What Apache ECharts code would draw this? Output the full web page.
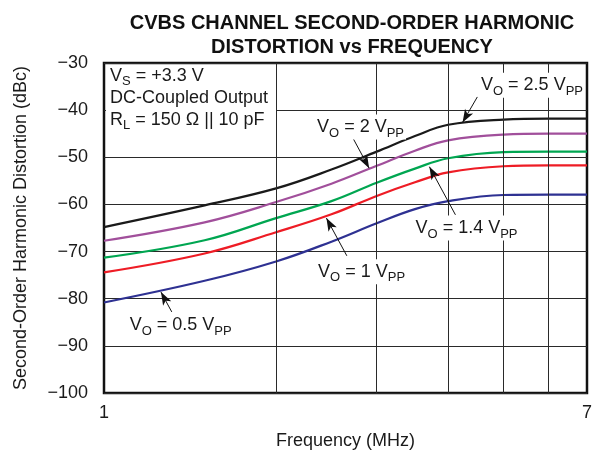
<!DOCTYPE html>
<html><head><meta charset="utf-8">
<script src="https://cdn.jsdelivr.net/npm/echarts@6/dist/echarts.min.js"></script>
<style>html,body{margin:0;padding:0;background:#fff}#c{width:595px;height:457px}</style>
</head><body><div id="c"></div><script>
// Frequency (MHz) sample points
const freq = [1, 1.5, 2, 2.5, 3, 3.5, 4, 5, 6, 7];
// Second-order harmonic distortion (dBc)
const vo25 = [-64.8, -60.2, -56.6, -52.6, -48.8, -45.5, -43.1, -42.0, -41.8, -41.8];
const vo2  = [-67.7, -63.8, -59.5, -55.6, -51.8, -48.6, -46.4, -45.2, -45.0, -45.0];
const vo14 = [-71.3, -67.6, -62.9, -59.3, -55.4, -52.4, -50.2, -48.9, -48.8, -48.8];
const vo1  = [-74.4, -70.4, -65.9, -62.1, -58.2, -55.3, -53.2, -51.9, -51.7, -51.7];
const vo05 = [-80.8, -76.2, -72.1, -67.9, -64.0, -61.0, -59.3, -58.0, -57.9, -57.9];
const seriesNames = ['VO = 2.5 VPP', 'VO = 2 VPP', 'VO = 1.4 VPP', 'VO = 1 VPP', 'VO = 0.5 VPP'];
const seriesColors = ['#1a1a1a', '#a14f9b', '#00a651', '#ee1c25', '#2e3192'];
const yTicks = [-100, -90, -80, -70, -60, -50, -40, -30];
const xGrid = [2, 3, 4, 5, 6];
// Annotation: label anchor [f, dBc] and text
const annLabels = [
  {pos: [4.53, -34.7], text: 'V{s|O} = 2.5 V{s|PP}'},
  {pos: [2.34, -43.6], text: 'V{s|O} = 2 V{s|PP}'},
  {pos: [3.48, -65.0], text: 'V{s|O} = 1.4 V{s|PP}'},
  {pos: [2.35, -74.3], text: 'V{s|O} = 1 V{s|PP}'},
  {pos: [1.10, -85.6], text: 'V{s|O} = 0.5 V{s|PP}'}
];
// Annotation arrows: [start, tip] in [f, dBc]
const annArrows = [
  [[4.50, -37.2], [4.24, -42.6]],
  [[2.72, -45.7], [2.91, -52.3]],
  [[4.12, -62.2], [3.71, -52.0]],
  [[2.66, -70.9], [2.45, -62.9]],
  [[1.314, -82.8], [1.258, -78.6]]
];

const FONT = '"Liberation Sans", Arial, Helvetica, sans-serif';
const TXT = '#1a1a1a';
const rich = {
  s: {fontSize: 13, fontFamily: FONT, color: TXT, verticalAlign: 'bottom', lineHeight: 25}
};
const allVals = [vo25, vo2, vo14, vo1, vo05];

const chart = echarts.init(document.getElementById('c'), null, {renderer: 'canvas'});
const series = allVals.map((vals, i) => ({
  name: seriesNames[i],
  type: 'line',
  data: freq.map((f, j) => [f, vals[j]]),
  showSymbol: false,
  smooth: 0.4,
  z: 3,
  lineStyle: {color: seriesColors[i], width: 2.2},
  itemStyle: {color: seriesColors[i]},
  silent: true
}));
// vertical gridlines
series.push({
  type: 'line', data: [], z: 1, silent: true,
  markLine: {
    silent: true, symbol: ['none', 'none'], animation: false,
    label: {show: false},
    lineStyle: {color: '#2a2a2a', width: 1, type: 'solid'},
    data: xGrid.map(v => ({xAxis: v}))
  }
});
// annotations
series.push({
  type: 'line', data: [], z: 10, silent: true,
  markPoint: {
    symbol: 'circle', symbolSize: 0, animation: false,
    data: annLabels.map(a => ({
      coord: a.pos,
      label: {
        show: true, position: 'right', distance: 0,
        formatter: a.text,
        fontSize: 18, fontFamily: FONT, color: TXT, lineHeight: 21,
        backgroundColor: '#fff', padding: [0, 2, 0, 2],
        rich: rich
      }
    }))
  },
  markLine: {
    silent: true, animation: false,
    symbol: ['none', 'arrow'], symbolSize: [7, 13],
    label: {show: false},
    lineStyle: {color: '#111', width: 1, type: 'solid'},
    data: annArrows.map(a => [{coord: a[0]}, {coord: a[1]}])
  }
});

chart.setOption({
  animation: false,
  backgroundColor: '#fff',
  title: {
    text: 'CVBS CHANNEL SECOND-ORDER HARMONIC\nDISTORTION vs FREQUENCY',
    left: 347, top: 6, textAlign: 'center',
    textStyle: {fontSize: 20, fontWeight: 'bold', fontFamily: FONT, color: '#111', lineHeight: 24}
  },
  grid: {left: 104, right: 6, top: 63, bottom: 64, show: true, borderColor: '#111', borderWidth: 2.5},
  xAxis: {
    type: 'log', logBase: 10, min: 1, max: 7,
    name: 'Frequency (MHz)', nameLocation: 'middle', nameGap: 39,
    nameTextStyle: {fontSize: 18, fontFamily: FONT, color: TXT},
    axisLine: {show: false}, axisTick: {show: false}, splitLine: {show: false},
    axisLabel: {fontSize: 18, fontFamily: FONT, color: TXT, margin: 11, showMinLabel: true, showMaxLabel: true,
      formatter: v => String(Math.round(v))}
  },
  yAxis: {
    type: 'value', min: yTicks[0], max: yTicks[yTicks.length - 1], interval: 10,
    name: 'Second-Order Harmonic Distortion (dBc)', nameLocation: 'middle', nameGap: 74,
    nameTextStyle: {fontSize: 18, fontFamily: FONT, color: TXT},
    axisLine: {show: false}, axisTick: {show: false},
    splitLine: {show: true, lineStyle: {color: '#2a2a2a', width: 1}},
    axisLabel: {fontSize: 18, fontFamily: FONT, color: TXT, margin: 16,
      formatter: v => (v < 0 ? '\u2212' : '') + Math.abs(v)}
  },
  graphic: [
    {type: 'rect', z: 50, shape: {x: 106, y: 65, width: 170, height: 73}, style: {fill: '#fff'}, silent: true},
    {type: 'text', z: 51, left: 110, top: 64, silent: true,
      style: {
        text: 'V{s|S} = +3.3 V\n{n|DC-Coupled Output}\nR{s|L} = 150 \u03A9 || 10 pF',
        fontSize: 18, fontFamily: FONT, fill: TXT, lineHeight: 20,
        rich: {s: {fontSize: 13, fontFamily: FONT, fill: TXT, verticalAlign: 'bottom', lineHeight: 24},
               n: {fontSize: 18, fontFamily: FONT, fill: TXT, lineHeight: 20}}
      }}
  ],
  series: series
});
</script></body></html>
